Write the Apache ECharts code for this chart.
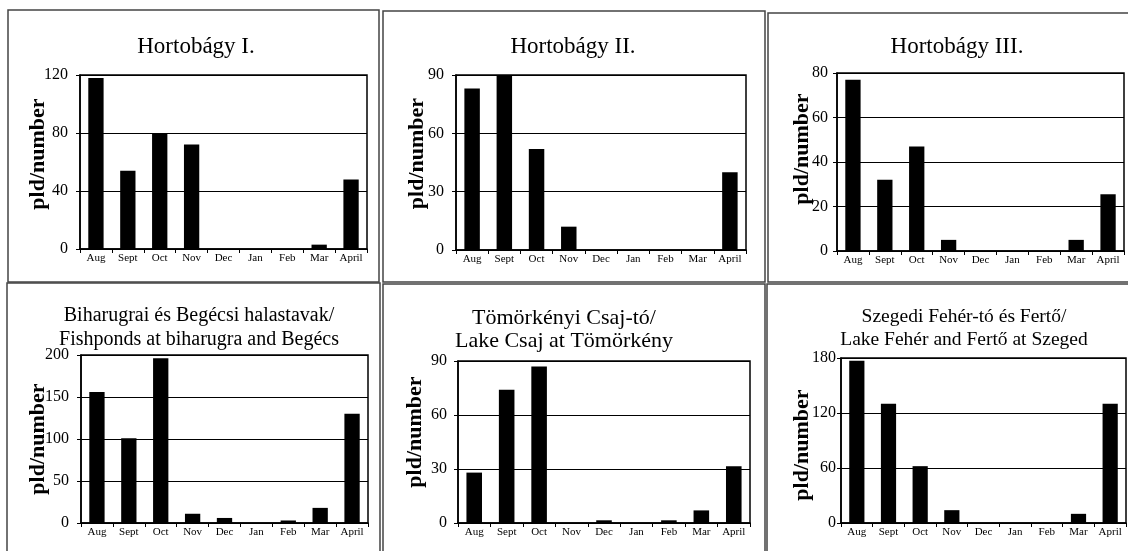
<!DOCTYPE html>
<html><head><meta charset="utf-8">
<script src="https://cdn.jsdelivr.net/npm/echarts@6/dist/echarts.min.js"></script>
<style>html,body{margin:0;padding:0;background:#fff}#c{width:1128px;height:551px}</style>
</head><body><div id="c"></div>
<script>
const categories = ['Aug','Sept','Oct','Nov','Dec','Jan','Feb','Mar','April'];
const titles = [
  'Hortobágy I.',
  'Hortobágy II.',
  'Hortobágy III.',
  'Biharugrai és Begécsi halastavak/\nFishponds at biharugra and Begécs',
  'Tömörkényi Csaj-tó/\nLake Csaj at Tömörkény',
  'Szegedi Fehér-tó és Fertő/\nLake Fehér and Fertő at Szeged'
];
const yName = 'pld/number';
const hortobagy1 = [118, 54, 80, 72, 0, 0, 0, 3, 48];
const hortobagy2 = [83, 90, 52, 12, 0, 0, 0, 0, 40];
const hortobagy3 = [77, 32, 47, 5, 0, 0, 0, 5, 25.5];
const biharugra = [156, 101, 196, 11, 6, 0, 3, 18, 130];
const tomorkeny = [28, 74, 87, 0, 1.5, 0, 1.5, 7, 31.5];
const szeged = [177, 130, 62, 14, 0, 0, 0, 10, 130];
const yMax = [120, 90, 80, 200, 90, 180];
const yStep = [40, 30, 20, 50, 30, 60];
const seriesData = [hortobagy1, hortobagy2, hortobagy3, biharugra, tomorkeny, szeged];

// layout (style only)
const grids = [
  {left:80, top:75, width:287, height:174},
  {left:456, top:75, width:290, height:175},
  {left:837, top:73, width:287, height:178},
  {left:81, top:355, width:287, height:168},
  {left:458, top:361, width:292, height:162},
  {left:841, top:358, width:285, height:165}
];
const titlePos = [
  {x:191, top:29, size:23, lh:25},
  {x:568, top:29, size:23, lh:25},
  {x:952, top:29, size:23, lh:25},
  {x:194, top:299, size:20, lh:23.5},
  {x:559, top:301, size:22, lh:23.5},
  {x:959, top:300, size:19.5, lh:23.5}
];
const nameGaps = [31, 28, 24, 32, 32, 28];
const namePads = [[0,0,0,16],[0,0,0,18],[0,0,0,26],[0,0,0,0],[0,0,0,20],[0,9,0,0]];
const labelMargins = [12, 12, 9, 12, 11, 5];
const panels = [
  [8,10,371,272],[383,11,382,271],[768,13,365,269],
  [7,283,373,300],[383,284,382,300],[767,284,370,300]
];
const FONT = '"Liberation Serif", "Times New Roman", serif';

const option = {
  animation:false,
  backgroundColor:'#fff',
  graphic: panels.map(p => ({type:'rect', shape:{x:p[0], y:p[1], width:p[2], height:p[3]}, style:{fill:'none', stroke:'#444', lineWidth:1.5}, z:-10})),
  title: titles.map((t,i) => ({
    text:t, left:titlePos[i].x, top:titlePos[i].top, textAlign:'center',
    textStyle:{fontFamily:FONT, fontWeight:'normal', fontSize:titlePos[i].size, lineHeight:titlePos[i].lh, color:'#000'}
  })),
  grid: grids.map(g => Object.assign({show:true, borderColor:'#000', borderWidth:1.5, backgroundColor:'transparent', containLabel:false}, g)),
  xAxis: grids.map((g,i) => ({
    type:'category', gridIndex:i, data:categories,
    axisLine:{lineStyle:{color:'#000', width:1.5}},
    axisTick:{show:true, length:4, lineStyle:{color:'#000'}},
    axisLabel:{interval:0, fontFamily:FONT, fontSize:11, color:'#000', margin:4}
  })),
  yAxis: grids.map((g,i) => ({
    type:'value', gridIndex:i, min:0, max:yMax[i], interval:yStep[i],
    name:yName, nameLocation:'middle', nameRotate:90, nameGap:nameGaps[i], nameMoveOverlap:false,
    nameTextStyle:{fontFamily:FONT, fontWeight:'bold', fontSize:22, color:'#000', padding:namePads[i]},
    axisLine:{show:true, lineStyle:{color:'#000', width:1.5}},
    axisTick:{show:true, length:4, lineStyle:{color:'#000'}},
    axisLabel:{fontFamily:FONT, fontSize:16, color:'#000', margin:labelMargins[i]},
    splitLine:{show:true, lineStyle:{color:'#000', width:1}}
  })),
  series: seriesData.map((d,i) => ({
    type:'bar', xAxisIndex:i, yAxisIndex:i, data:d, barWidth:'48%',
    itemStyle:{color:'#000'}
  }))
};
echarts.init(document.getElementById('c'), null, {renderer:'canvas'}).setOption(option);
</script></body></html>
